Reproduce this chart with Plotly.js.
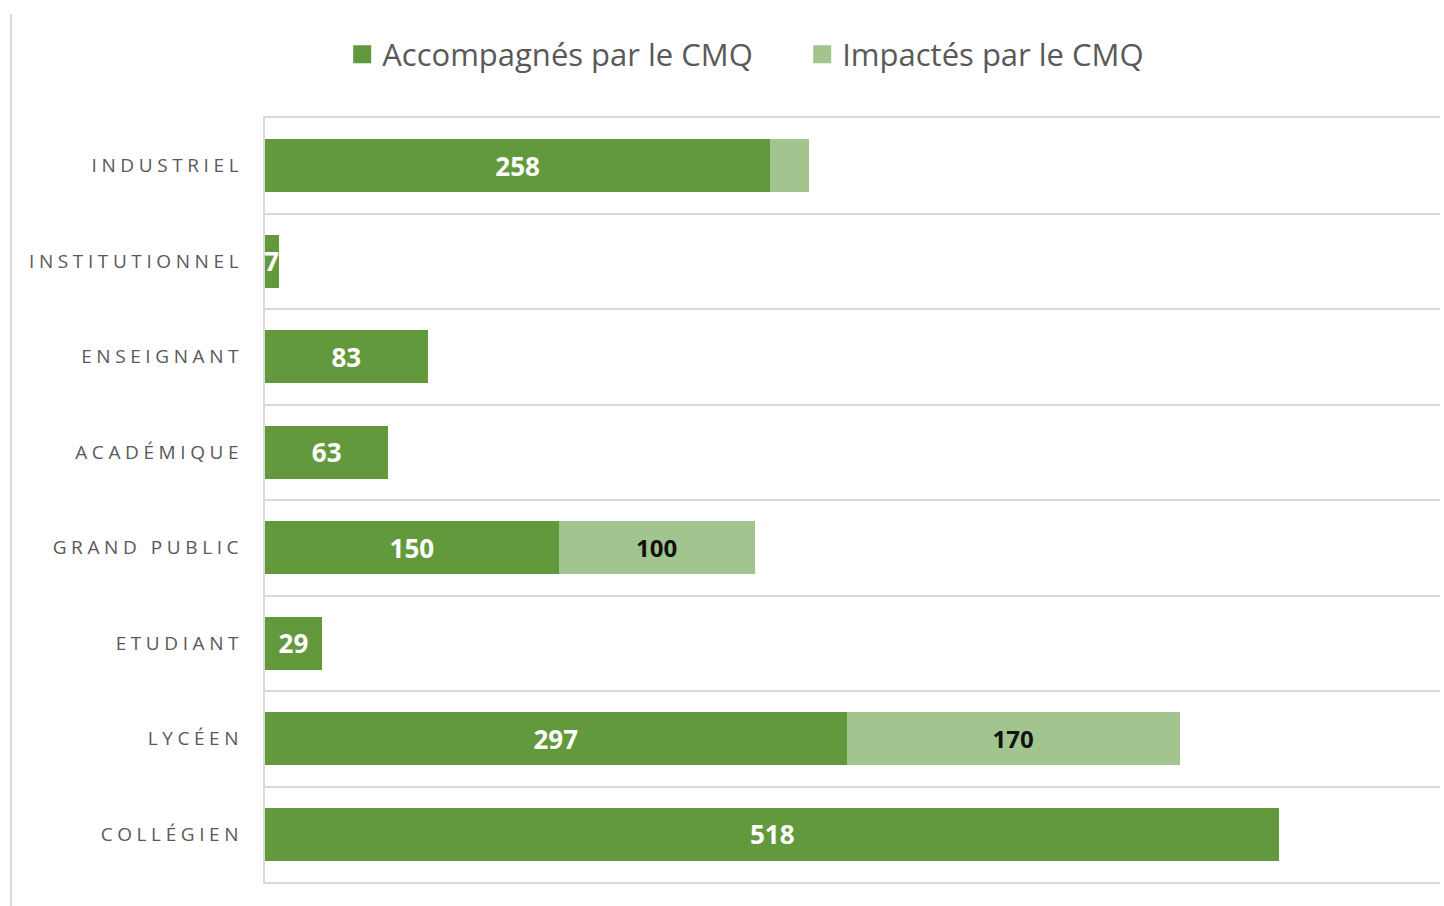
<!DOCTYPE html>
<html>
<head>
<meta charset="utf-8">
<script src="https://cdn.plot.ly/plotly-3.0.1.min.js"></script>
<style>
  html, body { margin: 0; padding: 0; background: #fff; }
  #wrap { position: relative; width: 1444px; height: 906px; }
  #edge { position: absolute; left: 10px; top: 14px; width: 2px; height: 892px; background: #d9d9d9; }
  #chart { position: absolute; left: 0; top: 0; width: 1444px; height: 906px; }
  .ytick text { letter-spacing: 4.6px; }
  .legend .legendpoints path { transform: translate(20px, 0px) scale(1.5); }
</style>
</head>
<body>
<div id="wrap">
  <div id="chart"></div>
  <div id="edge"></div>
</div>
<script>
const categories = ["INDUSTRIEL", "INSTITUTIONNEL", "ENSEIGNANT", "ACADÉMIQUE", "GRAND PUBLIC", "ETUDIANT", "LYCÉEN", "COLLÉGIEN"];
const accompagnes = [258, 7, 83, 63, 150, 29, 297, 518];
const impactes = [20, 0, 0, 0, 100, 0, 170, 0];
const accompagnesLabels = ["258", "7", "83", "63", "150", "29", "297", "518"];
const impactesLabels = ["", "", "", "", "100", "", "170", ""];

const traces = [
  {
    type: "bar", orientation: "h", name: "Accompagnés par le CMQ",
    y: categories, x: accompagnes, text: accompagnesLabels,
    textposition: "inside", insidetextanchor: "middle", constraintext: "none",
    textfont: { family: "Open Sans, sans-serif", size: 26, color: "#ffffff", weight: "bold" },
    marker: { color: "#62993d" },
    hoverinfo: "x+y"
  },
  {
    type: "bar", orientation: "h", name: "Impactés par le CMQ",
    y: categories, x: impactes, text: impactesLabels,
    textposition: "inside", insidetextanchor: "middle", constraintext: "none",
    textfont: { family: "Open Sans, sans-serif", size: 24, color: "#111111", weight: "bold" },
    marker: { color: "#a2c590" },
    hoverinfo: "x+y"
  }
];

const layout = {
  width: 1444, height: 906,
  margin: { l: 265, r: 4, t: 118, b: 24 },
  paper_bgcolor: "rgba(0,0,0,0)", plot_bgcolor: "rgba(0,0,0,0)",
  barmode: "stack", bargap: 0.445,
  showlegend: true,
  legend: {
    orientation: "h", x: 0.0657, xanchor: "left", y: 1.083, yanchor: "middle",
    font: { family: "Open Sans, sans-serif", size: 31, color: "#595959" },
    entrywidth: 415, entrywidthmode: "pixels", traceorder: "normal"
  },
  xaxis: {
    range: [0, 600], showgrid: false, zeroline: false, showticklabels: false, ticks: "",
    showline: true, mirror: true, linecolor: "#d9d9d9", linewidth: 2, fixedrange: true
  },
  yaxis: {
    type: "category", autorange: "reversed", tickson: "boundaries", ticks: "",
    showgrid: true, gridcolor: "#d9d9d9", gridwidth: 2,
    showline: true, linecolor: "#d9d9d9", linewidth: 2,
    ticklabelstandoff: 16,
    tickfont: { family: "Open Sans, sans-serif", size: 19, color: "#595959" },
    fixedrange: true
  }
};

Plotly.newPlot("chart", traces, layout, { displayModeBar: false, staticPlot: true });
</script>
</body>
</html>
